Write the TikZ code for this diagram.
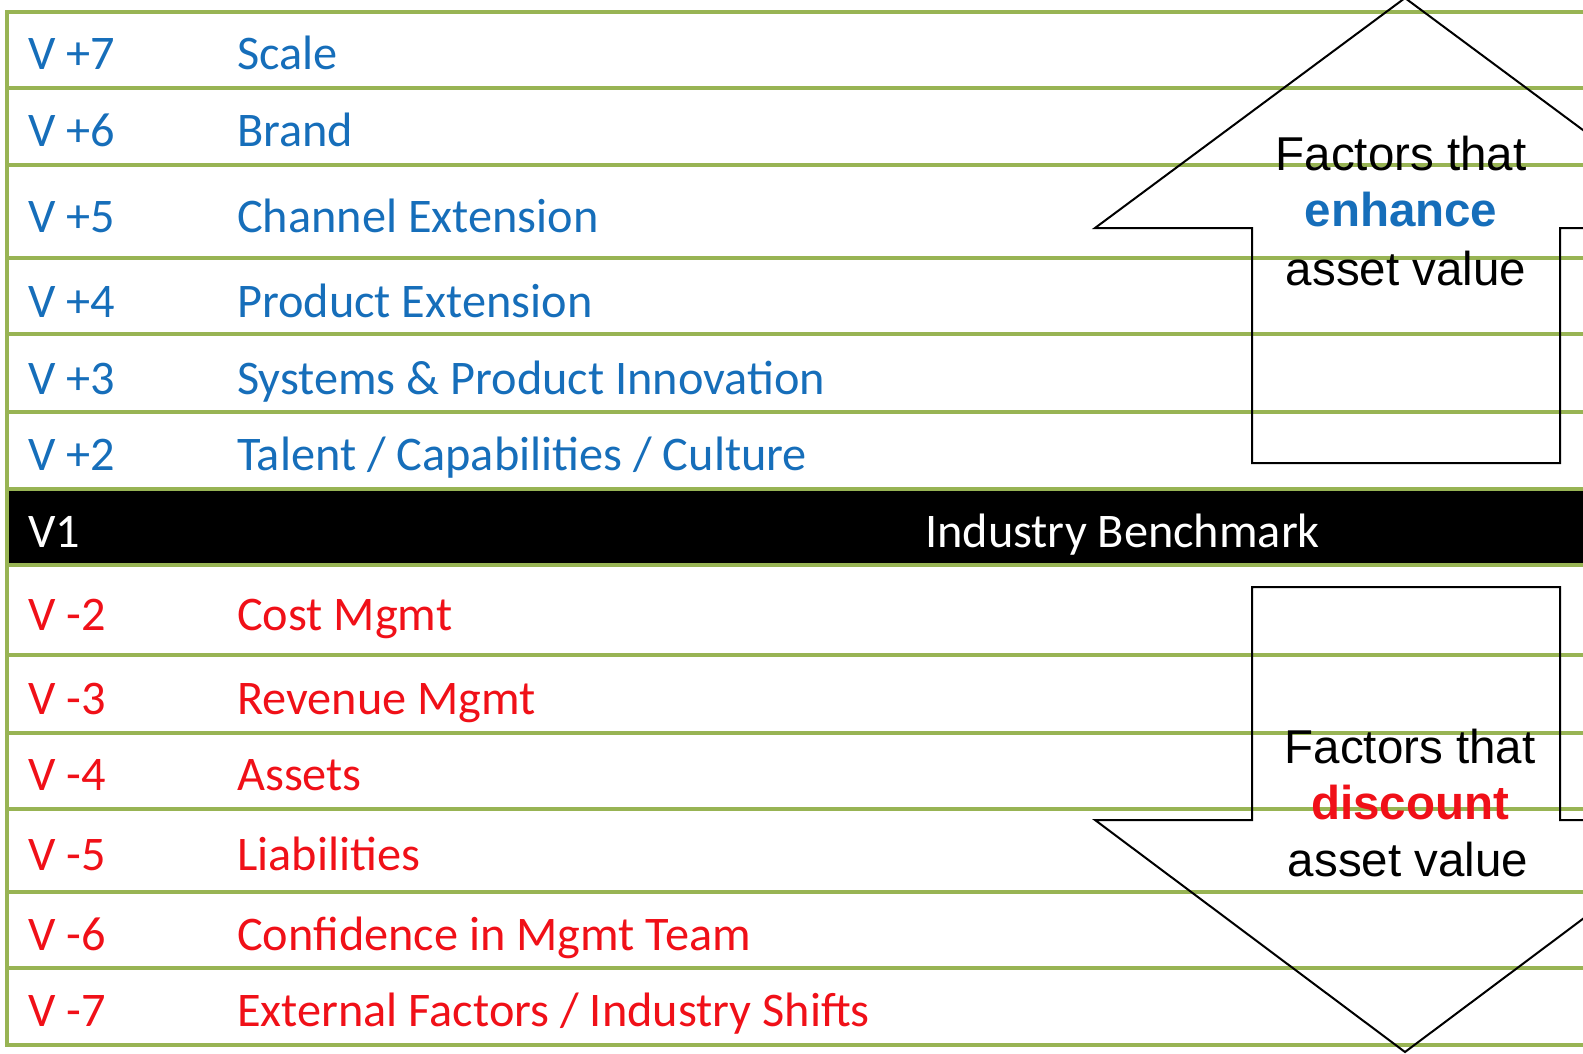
\documentclass[tikz,border=0pt]{standalone}
\usepackage{fontspec}
\setmainfont{Carlito}
\newfontfamily\arrowfont{Liberation Sans}
\definecolor{rulegreen}{RGB}{152,180,84}
\definecolor{plusblue}{RGB}{22,110,186}
\definecolor{minusred}{RGB}{240,16,24}

\begin{document}
\begin{tikzpicture}[x=1pt,y=-1pt,
  rowline/.style={draw=rulegreen, line width=3.2pt},
  rowtext/.style={anchor=base west, inner sep=0pt, font=\fontsize{48.3}{57}\selectfont},
  plus/.style={rowtext, text=plusblue},
  minus/.style={rowtext, text=minusred},
  bench/.style={rowtext, text=white},
  bigarrow/.style={draw=black, line width=2pt, line join=miter},
  arrowtext/.style={anchor=base, inner sep=0pt, font=\arrowfont\fontsize{47.5}{57}\selectfont}
]
\useasboundingbox (0,0) rectangle (1583,1054);
\clip (0,0) rectangle (1583,1054);

% benchmark bar
\fill[black] (8,489) rectangle (1583,565);

% ruled rows
\foreach \yy in {12,88,165,258,334,412,489,565,655,733,809,892,968,1045}
  \draw[rowline] (7,\yy) -- (1583,\yy);
\draw[rowline] (7,10.4) -- (7,1046.6);

% value drivers above the benchmark
\node[plus] (c7) at (28,70)  {V +7};
\node[plus] (l7) at (237,70) {Scale};
\node[plus] (c6) at (28,147)  {V +6};
\node[plus] (l6) at (237,147) {Brand};
\node[plus] (c5) at (28,232)  {V +5};
\node[plus] (l5) at (237,232) {Channel Extension};
\node[plus] (c4) at (28,317)  {V +4};
\node[plus] (l4) at (237,317) {Product Extension};
\node[plus] (c3) at (28,394)  {V +3};
\node[plus] (l3) at (237,394) {Systems \& Product Innovation};
\node[plus] (c2) at (28,470)  {V +2};
\node[plus] (l2) at (237,470) {Talent / Capabilities / Culture};

% benchmark
\node[bench] (c1) at (28,547)  {V1};
\node[bench] (l1) at (925,547) {Industry Benchmark};

% value drivers below the benchmark
\node[minus] (m2) at (28,630)  {V -2};
\node[minus] (n2) at (237,630) {Cost Mgmt};
\node[minus] (m3) at (28,714)  {V -3};
\node[minus] (n3) at (237,714) {Revenue Mgmt};
\node[minus] (m4) at (28,790)  {V -4};
\node[minus] (n4) at (237,790) {Assets};
\node[minus] (m5) at (28,870)  {V -5};
\node[minus] (n5) at (237,870) {Liabilities};
\node[minus] (m6) at (28,950)  {V -6};
\node[minus] (n6) at (237,950) {Confidence in Mgmt Team};
\node[minus] (m7) at (28,1026)  {V -7};
\node[minus] (n7) at (237,1026) {External Factors / Industry Shifts};

% upward arrow
\draw[bigarrow] (1405,-2) -- (1715,228) -- (1560,228) -- (1560,463)
  -- (1252,463) -- (1252,228) -- (1095,228) -- cycle;
\node[arrowtext] (up1) at (1401,171) {Factors that};
\node[arrowtext, text=plusblue, font=\arrowfont\bfseries\fontsize{47.5}{57}\selectfont] (up2) at (1401,226) {enhance};
\node[arrowtext] (up3) at (1406,285) {asset value};

% downward arrow
\draw[bigarrow] (1252,587) -- (1560,587) -- (1560,820) -- (1715,820)
  -- (1405,1052) -- (1095,820) -- (1252,820) -- cycle;
\node[arrowtext] (dn1) at (1410,763) {Factors that};
\node[arrowtext, text=minusred, font=\arrowfont\bfseries\fontsize{47.5}{57}\selectfont] (dn2) at (1410,819) {discount};
\node[arrowtext] (dn3) at (1408,876) {asset value};
\end{tikzpicture}
\end{document}
